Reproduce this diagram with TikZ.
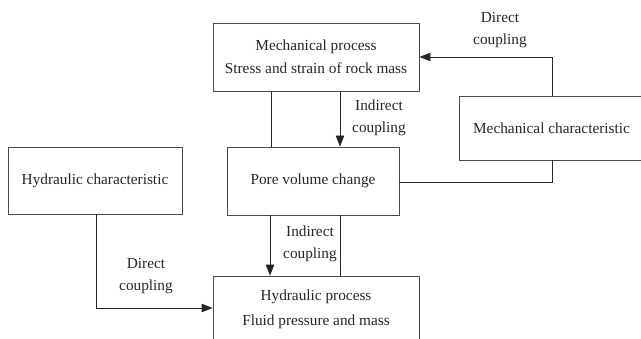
\documentclass[tikz,border=0pt]{standalone}
\usepackage{fontspec}
\setmainfont{Liberation Serif}
\usetikzlibrary{arrows.meta,calc}
\begin{document}
\begin{tikzpicture}[x=1pt,y=-1pt,
  box/.style={draw=black!70,line width=0.9pt,rectangle,inner sep=0pt,align=center,
    font=\fontsize{15.3}{23}\selectfont,text=black!85},
  conn/.style={draw=black!85,line width=0.9pt},
  arr/.style={conn,-{Triangle[length=11pt,width=8.5pt]}},
  lbl/.style={align=center,inner sep=0pt,font=\fontsize{15.3}{21.5}\selectfont,text=black!85}]
\useasboundingbox (0,0) rectangle (641,339);
\clip (0,0) rectangle (641,339);
% boxes
\node[box,minimum width=206pt,minimum height=68pt] (mp) at (316,57) {Mechanical process\\Stress and strain of rock mass};
\node[box,minimum width=172pt,minimum height=68pt] (pv) at (313,181) {Pore volume change};
\node[box,minimum width=185pt,minimum height=64pt] (mc) at (551.5,128) {Mechanical characteristic};
\node[box,minimum width=174pt,minimum height=67pt] (hc) at (95,180.5) {Hydraulic characteristic};
\node[box,minimum width=206pt,minimum height=66pt,font=\fontsize{15.3}{25}\selectfont] (hp) at (316,309) {Hydraulic process\\Fluid pressure and mass};
% helper coordinates
\coordinate (c1) at (552,57);
\coordinate (c2) at (552,182);
\coordinate (c3) at (96,308);
\coordinate (x1) at (271,0);
\coordinate (x2) at (340,0);
\coordinate (x3) at (270,0);
% connectors
\draw[arr] (mc.north -| c1) -- (c1) -- (mp.east |- c1);
\draw[conn] (x1 |- mp.south) -- (x1 |- pv.north);
\draw[arr] (x2 |- mp.south) -- (x2 |- pv.north);
\draw[conn] (pv.east |- c2) -- (c2) -- (mc.south -| c2);
\draw[arr] (x3 |- pv.south) -- (x3 |- hp.north);
\draw[conn] (x2 |- pv.south) -- (x2 |- hp.north);
\draw[arr] (hc.south -| c3) -- (c3) -- (hp.west |- c3);
% labels
\node[lbl] (l1) at (500,30) {Direct\\coupling};
\node[lbl] (l2) at (379,118) {Indirect\\coupling};
\node[lbl] (l3) at (310,244) {Indirect\\coupling};
\node[lbl] (l4) at (146,276) {Direct\\coupling};
\end{tikzpicture}
\end{document}
